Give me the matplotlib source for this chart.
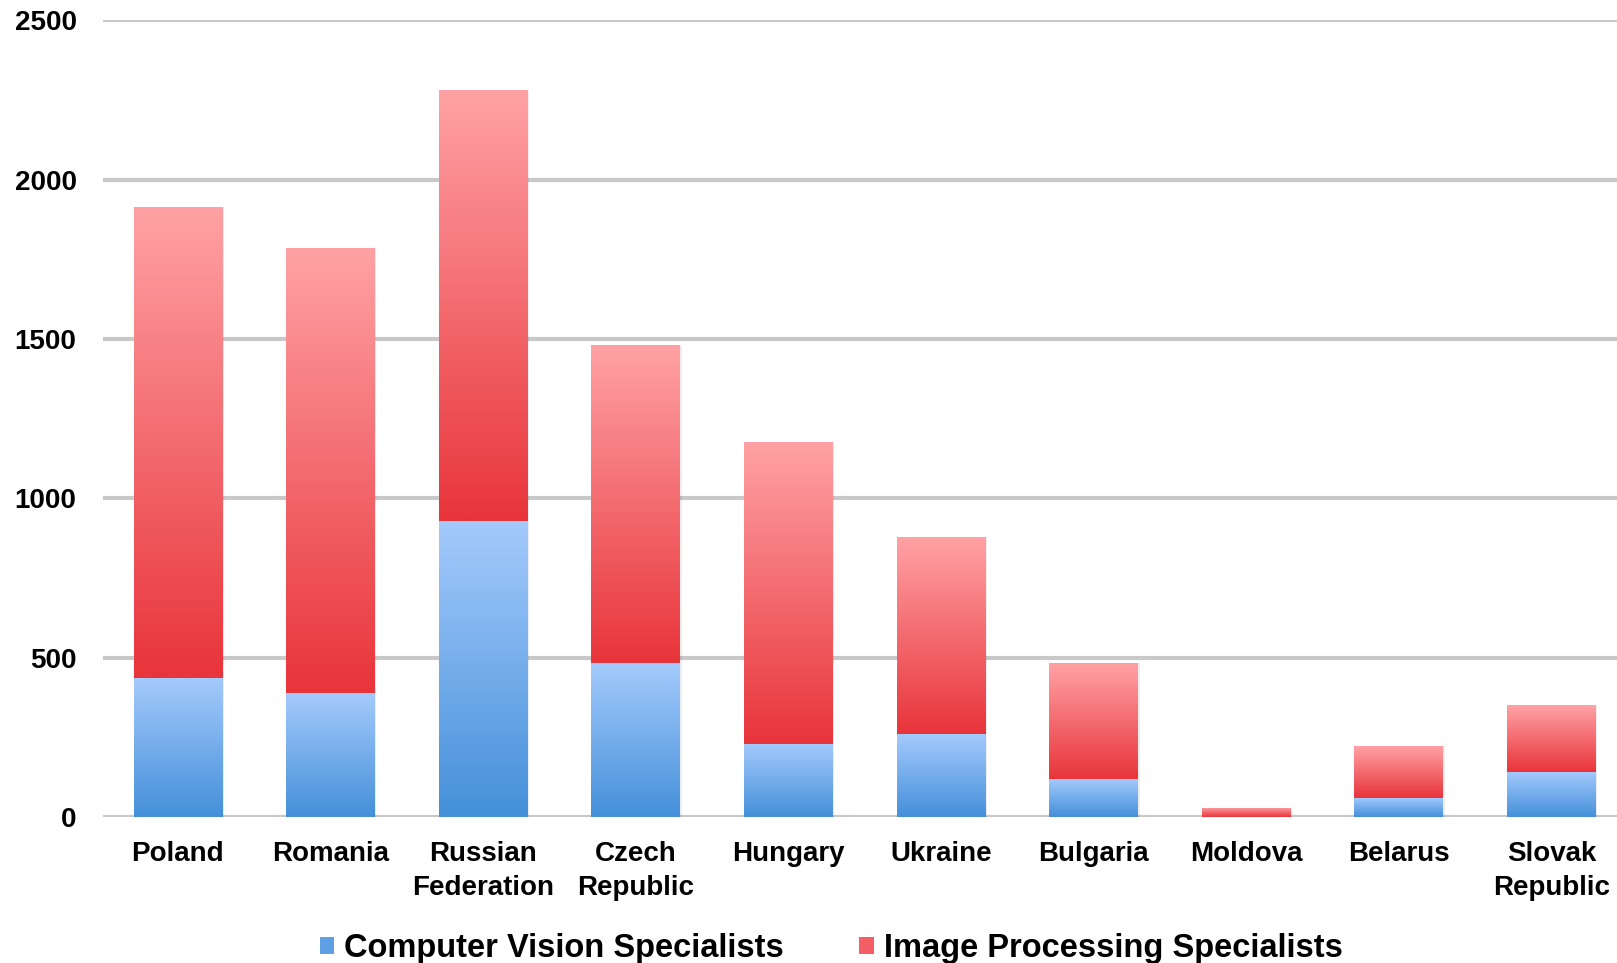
import matplotlib.pyplot as plt
import matplotlib.colors as mcolors
from matplotlib.patches import Rectangle
import numpy as np

countries = ["Poland", "Romania", "Russian\nFederation", "Czech\nRepublic", "Hungary",
             "Ukraine", "Bulgaria", "Moldova", "Belarus", "Slovak\nRepublic"]
cv_specialists = [437, 388, 928, 482, 230, 262, 120, 0, 61, 142]
ip_specialists = [1478, 1397, 1352, 999, 947, 618, 362, 29, 162, 208]
yticks = [0, 500, 1000, 1500, 2000, 2500]

plt.rcParams['font.family'] = ['Liberation Sans', 'DejaVu Sans']
plt.rcParams['font.weight'] = 'bold'

fig = plt.figure(figsize=(16.17, 9.63), dpi=100)
ax = fig.add_axes([0.0637, 0.1516, 0.9363, 0.8274])

x = np.arange(len(countries))
width = 0.58

def gradient_fill(bars, bottom_color, top_color):
    # paint a vertical gradient inside every bar, clipped to the bar shape
    c0 = np.array(mcolors.to_rgba(bottom_color))
    c1 = np.array(mcolors.to_rgba(top_color))
    t = np.linspace(1, 0, 64)[:, None]
    img = (c1 * t + c0 * (1 - t)).reshape(64, 1, 4)
    for b in bars:
        x0, y0 = b.get_x(), b.get_y()
        w, h = b.get_width(), b.get_height()
        if h <= 0:
            continue
        # soft shadow
        ax.add_patch(Rectangle((x0 + 0.012, y0), w, h, facecolor='#000000',
                               alpha=0.07, edgecolor='none', zorder=2))
        im = ax.imshow(img, extent=[x0, x0 + w, y0, y0 + h], aspect='auto',
                       interpolation='bilinear', zorder=3)
        im.set_clip_path(b)
        b.set_facecolor('none')

ax.grid(axis='y', color='#c8c8c8', linewidth=3, zorder=0)
ax.set_axisbelow(True)

blue = ax.bar(x, cv_specialists, width, color='#5f9fe3', zorder=3,
              label='Computer Vision Specialists', edgecolor='none')
red = ax.bar(x, ip_specialists, width, bottom=cv_specialists, color='#f26065', zorder=3,
             label='Image Processing Specialists', edgecolor='none')
gradient_fill(blue, '#4590da', '#a4cafc')
gradient_fill(red, '#e8353b', '#ffa1a4')

ax.set_xlim(-0.49, 9.43)
ax.set_ylim(0, 2500)
ax.set_yticks(yticks)
ax.set_yticklabels([str(v) for v in yticks], fontsize=20, fontweight='bold')
ax.set_xticks(x)
ax.set_xticklabels(countries, fontsize=20, fontweight='bold', linespacing=1.4)
ax.tick_params(axis='both', length=0)
ax.tick_params(axis='y', pad=19)
ax.tick_params(axis='x', pad=17)
for s in ax.spines.values():
    s.set_visible(False)

handles = [Rectangle((0, 0), 1, 1, facecolor='#5f9fe3'),
           Rectangle((0, 0), 1, 1, facecolor='#f26065')]
fig.legend(handles, ['Computer Vision Specialists', 'Image Processing Specialists'],
           loc='center', bbox_to_anchor=(0.514, 0.015), ncol=2, frameon=False,
           prop={'size': 23.5, 'weight': 'bold'}, handlelength=0.45, handleheight=0.45,
           handletextpad=0.3, columnspacing=2.3)

fig.savefig('out.png', dpi=100)
